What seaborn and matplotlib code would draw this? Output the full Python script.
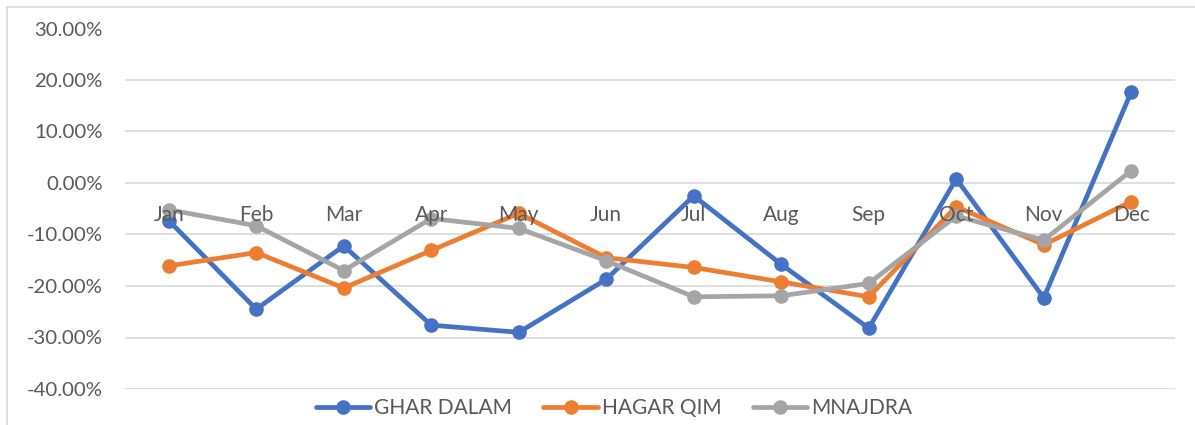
import matplotlib
matplotlib.use("Agg")
import matplotlib.pyplot as plt
import matplotlib.ticker as mticker
from matplotlib.lines import Line2D
import seaborn as sns
import pandas as pd

months = ["Jan", "Feb", "Mar", "Apr", "May", "Jun", "Jul", "Aug", "Sep", "Oct", "Nov", "Dec"]
ghar_dalam = [-0.073, -0.245, -0.122, -0.276, -0.290, -0.187, -0.025, -0.158, -0.282, 0.008, -0.223, 0.177]
hagar_qim = [-0.161, -0.135, -0.204, -0.131, -0.059, -0.145, -0.164, -0.192, -0.221, -0.046, -0.120, -0.036]
mnajdra = [-0.052, -0.083, -0.170, -0.069, -0.088, -0.151, -0.221, -0.219, -0.195, -0.064, -0.111, 0.024]
series_names = ["GHAR DALAM", "HAGAR QIM", "MNAJDRA"]
colors = ["#4472C4", "#ED7D31", "#A5A5A5"]
y_ticks = [-0.4, -0.3, -0.2, -0.1, 0.0, 0.1, 0.2, 0.3]

rows = []
for name, vals in zip(series_names, [ghar_dalam, hagar_qim, mnajdra]):
    for m, v in zip(months, vals):
        rows.append({"month": m, "value": v, "site": name})
df = pd.DataFrame(rows)

sns.set_theme(style="white")
plt.rcParams["font.family"] = ["Lato", "DejaVu Sans"]

fig = plt.figure(figsize=(11.95, 4.25), dpi=100)
ax = fig.add_axes([125 / 1195, 1 - 389 / 425, 1050 / 1195, (389 - 28.5) / 425])

LW = 3.4
MS = 10.5
sns.lineplot(data=df, x="month", y="value", hue="site", hue_order=series_names,
             palette=colors, marker="o", markersize=MS, markeredgewidth=0,
             linewidth=LW, sort=False, ax=ax, legend=False, zorder=2)

ax.set_xlim(-0.5, len(months) - 0.5)
ax.set_ylim(-0.4, 0.3)
ax.set_yticks(y_ticks)
ax.yaxis.set_major_formatter(mticker.FuncFormatter(lambda v, p: f"{v*100:.2f}%"))
ax.grid(False)
for t in y_ticks:
    ax.axhline(t, color="#D9D9D9", linewidth=1.2, zorder=0)

ax.set_axisbelow(False)
for s in ["top", "right", "left"]:
    ax.spines[s].set_visible(False)
ax.spines["bottom"].set_position(("data", 0))
ax.spines["bottom"].set_visible(False)
ax.tick_params(axis="x", length=0, pad=15.5, labelsize=15, labelcolor="#595959")
ax.tick_params(axis="y", length=0, pad=16, labelsize=14.7, labelcolor="#595959")
ax.set_xlabel("")
ax.set_ylabel("")

handles = [Line2D([0], [0], color=c, linewidth=LW, marker="o", markersize=MS,
                  markeredgewidth=0) for c in colors]
leg = fig.legend(handles, series_names, loc="center", bbox_to_anchor=(614 / 1195, 1 - 408 / 425),
                 ncol=3, frameon=False, fontsize=15, handlelength=2.6, handletextpad=0.2,
                 columnspacing=1.5, borderaxespad=0)
for t in leg.get_texts():
    t.set_color("#595959")

# chart border
fig.add_artist(Line2D([7 / 1195, 7 / 1195], [0, 1 - 7 / 425], color="#D9D9D9", linewidth=1.2,
                      transform=fig.transFigure))
fig.add_artist(Line2D([7 / 1195, 1], [1 - 7 / 425, 1 - 7 / 425], color="#D9D9D9", linewidth=1.2,
                      transform=fig.transFigure))

fig.savefig("out.png", dpi=100)
